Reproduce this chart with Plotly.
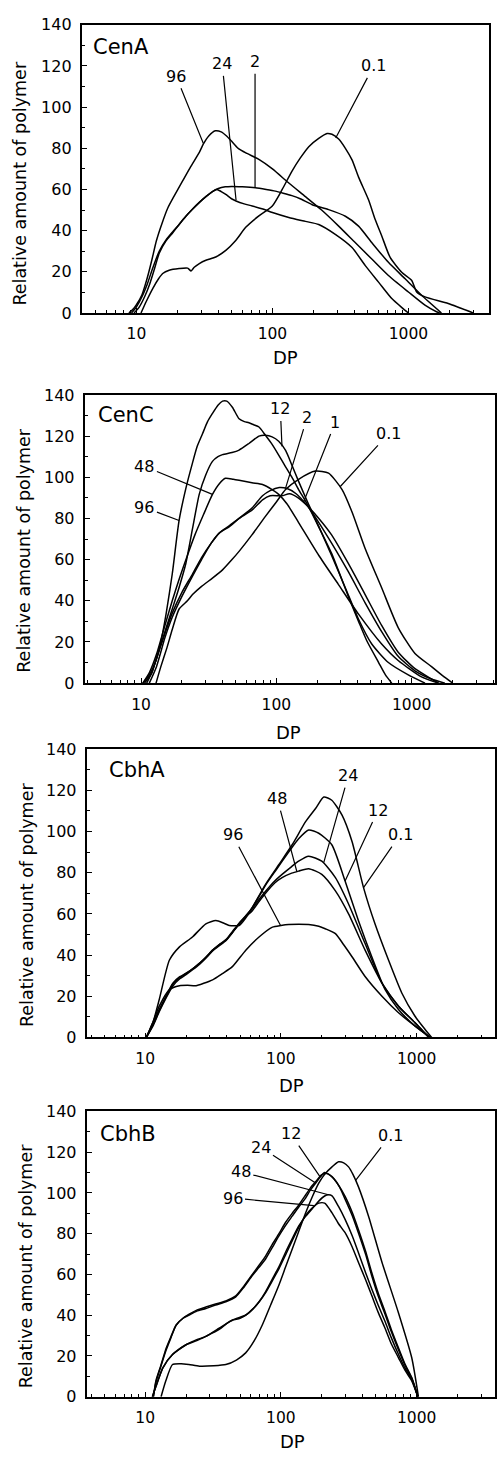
import math
import plotly.graph_objects as go

# ---------------- data (DP, relative amount of polymer) ----------------
# Panel 1: CenA
CENA_96_DP = [8.8, 9.5, 10, 11, 12, 13, 14, 15.5, 17, 19, 21.8, 25, 29, 31, 34, 38, 42, 46, 50, 56, 65, 80, 100, 130, 175, 230, 307, 406, 538, 713, 1000, 1324, 1610, 1700]
CENA_96_Y = [0, 2, 4, 9, 17, 26, 35, 44, 51, 57, 64, 71, 78, 82, 86, 88.5, 88, 86, 83.5, 80, 77.5, 74.5, 70, 63.5, 56.5, 50, 42.2, 34.2, 26.2, 18.2, 10.2, 3.8, 0.6, 0]
CENA_24_DP = [9.2, 10, 11, 12, 13.2, 14.7, 16.5, 18.5, 20.6, 23.1, 25.9, 28.9, 32.4, 36.2, 39, 42, 45.4, 50, 54, 62, 71, 85, 100, 132, 175, 219, 290, 385, 482, 603, 755, 900, 1000]
CENA_24_Y = [0, 3, 8, 14, 22, 30, 35.5, 39.5, 43, 47, 50.5, 53.6, 56.5, 59, 60, 59, 57.6, 55.5, 54.4, 53, 52, 50.5, 48.8, 46.4, 44.5, 43, 38.2, 31.8, 23, 15, 7, 2.5, 0]
CENA_2_DP = [9.6, 10.5, 11.5, 12.5, 13.5, 14.7, 16.5, 18.5, 20.6, 23.1, 25.9, 28.9, 32.4, 36.2, 40, 45, 50, 60, 75, 90, 105, 120, 139, 160, 196, 259, 344, 430, 538, 713, 946, 1250, 1750]
CENA_2_Y = [0, 3, 8, 14, 21, 29, 35, 39, 43, 47, 50.5, 53.6, 56.5, 59, 60.5, 61.3, 61.5, 61.3, 60.8, 60, 59.2, 58.2, 57, 55.5, 52.6, 50.2, 47, 42.2, 34.2, 24.6, 16.6, 8.6, 0]
CENA_01_DP = [10.8, 11.8, 13.2, 14.5, 15.6, 17.4, 20.6, 23.8, 25.2, 26.6, 29, 32.4, 38.3, 45.4, 53.7, 63.6, 79.5, 99.8, 118, 139, 160, 185, 219, 252, 274, 307, 344, 385, 430, 509, 570, 637, 734, 893, 1058, 1150, 1324, 1963, 2995]
CENA_01_Y = [0, 5.6, 12, 16.5, 19.2, 20.8, 21.6, 21.8, 20.4, 22.2, 24, 25.6, 27.2, 30.4, 35.2, 41.6, 47.2, 52, 60, 68.8, 75.2, 80.8, 84.8, 87.2, 86.8, 84.5, 80, 74.4, 66, 55, 45.4, 37.4, 27, 19.8, 15.8, 10.2, 7.8, 4.6, 0]

# Panel 2: CenC
CENC_96_DP = [10.3, 11.5, 12.9, 14, 15.3, 17, 19.1, 21.5, 24, 26, 28.4, 31, 33.7, 37, 40, 43, 47.3, 53, 58, 62.7, 68, 74.4, 83, 93, 104, 117, 131, 146, 164, 185, 206, 256, 341, 405, 465, 570, 640, 713]
CENC_96_Y = [0, 4, 11, 20, 33.5, 53, 79, 95, 107, 115, 121, 127, 131, 135, 137, 137, 134, 128.4, 127, 126.5, 125.5, 124.4, 120.4, 116, 110.8, 105, 99.7, 94, 88.5, 82, 75.8, 63, 42, 30, 20.7, 10, 4, 0]
CENC_12_DP = [11, 12, 13, 15, 17, 19, 21.4, 24, 26.9, 30, 33.7, 37, 40, 47, 53, 62.7, 74.4, 83, 93, 104, 117, 130, 146, 170, 206, 256, 325, 405, 507, 673, 944, 1255]
CENC_12_Y = [0, 5, 12, 25, 36, 46, 58, 75, 91.7, 101, 107.7, 110, 111, 112, 113.2, 116.4, 120, 120.4, 119.6, 117.5, 113, 106, 98, 88, 76, 62, 46, 31, 19, 10, 4, 0]
CENC_48_DP = [10.3, 11.5, 13, 15, 17, 19, 22, 25, 29, 33.7, 38, 42, 48, 53, 66, 79, 93, 104, 120, 146, 206, 287, 405, 600, 795, 1183, 1580]
CENC_48_Y = [0, 5, 14, 28, 40, 50, 62, 72, 82, 91.7, 97, 99.5, 99, 98.5, 97.3, 96.5, 94, 91.7, 87, 78, 62, 48, 33.5, 19, 11, 3, 0]
CENC_2_DP = [10.6, 12, 13, 15, 17, 20, 24, 28, 33, 38, 45, 53, 66, 79, 90, 105, 120, 140, 170, 206, 256, 341, 453, 600, 795, 1058, 1400, 1760]
CENC_2_Y = [0, 5, 12, 24, 34, 44, 53, 61, 68, 73, 76, 80, 85, 91, 93.5, 95, 94.5, 92, 86, 78, 68, 54, 39, 25, 13, 6, 2, 0]
CENC_1_DP = [11.5, 13, 15, 17, 20, 24, 28, 33, 38, 45, 53, 66, 79, 90, 110, 125, 145, 170, 206, 256, 341, 453, 600, 795, 1058, 1400, 1580]
CENC_1_Y = [0, 8, 22, 32, 42, 52, 60, 68, 73, 76.5, 80, 84, 89, 91, 91, 92, 90, 86, 80, 72, 58, 43, 28, 15, 7, 2, 0]
CENC_01_DP = [12.9, 14, 15.5, 17, 19.1, 22, 24, 28, 33.7, 40, 47, 53, 66, 83, 100, 117, 146, 194, 243, 306, 363, 453, 600, 795, 1058, 1402, 1700, 2012]
CENC_01_Y = [0, 8, 17, 26, 36, 40, 43, 47, 51, 55, 60, 64, 72, 81, 88, 94, 99, 103, 102, 94, 83, 65.4, 46.3, 27, 14.4, 8, 3.5, 0]

# Panel 3: CbhA
CBHA_01_DP = [10.2, 11.5, 12.7, 15.1, 17.9, 22.3, 28, 33.2, 38, 41.6, 49.2, 55, 61.6, 77.1, 96.7, 121, 152, 180, 207, 237, 282, 334, 406, 493, 620, 777, 970, 1150, 1290]
CBHA_01_Y = [0, 8, 18.4, 37.6, 44, 48.8, 55.2, 56.8, 55.5, 54.4, 54.4, 58, 63.2, 74.4, 84, 93.6, 104.8, 111.2, 116.8, 115.2, 108, 95.2, 72.8, 55.2, 37.6, 21.6, 10.4, 4, 0]
CBHA_12_DP = [10.2, 11.5, 12.7, 14.2, 16, 18, 20, 22.5, 25.1, 28, 31.4, 35, 39.3, 44, 49.2, 55, 61.6, 69, 77.1, 91.3, 114, 135, 160, 190, 237, 297, 372, 467, 586, 735, 970, 1260]
CBHA_12_Y = [0, 7, 13.6, 20, 26.4, 29.5, 31.2, 33.5, 36, 39, 42.4, 45, 47.2, 51, 55.2, 59, 63.2, 68.5, 74, 81, 90, 96.5, 100.8, 99.2, 93.6, 76, 56.8, 39.2, 23.2, 13.6, 5.6, 0]
CBHA_24_DP = [10.2, 11.5, 12.7, 14.2, 16, 18, 20, 22.5, 25.1, 28, 31.4, 35, 39.3, 44, 49.2, 55, 61.6, 69, 77.1, 90, 102, 120, 135, 160, 200, 252, 315, 417, 555, 735, 970, 1230]
CBHA_24_Y = [0, 6.5, 13, 19.5, 26, 29, 31, 33.5, 36, 39, 42.4, 45, 47.5, 51.5, 55.5, 59, 62.5, 67, 71, 76, 79.2, 83, 85.6, 88, 85.6, 77.6, 64.8, 45.6, 26.4, 15.2, 7.2, 0]
CBHA_48_DP = [10.2, 11.5, 12.7, 14.2, 16, 18, 20, 22.5, 25.1, 28, 31.4, 35, 39.3, 44, 49.2, 55, 61.6, 69, 77, 90, 102, 120, 135, 160, 200, 252, 315, 417, 555, 735, 970, 1230]
CBHA_48_Y = [0, 6, 12.5, 19, 25, 28.5, 30.5, 33, 35.5, 38.5, 42, 44.5, 47, 51, 55, 58.5, 61.6, 66, 70, 75, 77.6, 79.8, 80.8, 82, 79.2, 71.2, 60, 42.4, 26.4, 15.2, 7.2, 0]
CBHA_96_DP = [10.2, 11.5, 12.7, 15.1, 17.9, 20.5, 23.7, 27, 31.4, 37, 43.9, 55.1, 69, 86.6, 100, 114, 135, 160, 190, 212, 252, 290, 334, 417, 555, 735, 970, 1260]
CBHA_96_Y = [0, 8, 15.2, 23.2, 25.1, 25.3, 25.1, 26.3, 28, 31, 34.4, 42.4, 48.8, 53.6, 54.4, 54.9, 55, 54.9, 54, 52.8, 50.4, 45, 39.2, 29.6, 20, 12, 5.6, 0]

# Panel 4: CbhB
CBHB_01_DP = [13.1, 14.2, 15.9, 18.4, 21, 25.1, 32, 39.3, 47, 55, 63, 72.9, 84, 96.4, 108, 121, 135, 152, 170, 190, 212, 238, 266, 290, 315, 340, 372, 442, 555, 730, 920, 1030]
CBHB_01_Y = [0, 7.8, 15.8, 16.2, 15.8, 15, 15.2, 15.8, 18, 21.5, 27, 35.2, 45, 54.6, 63.5, 72.4, 81, 90.2, 98, 104.8, 109.5, 112.8, 115.3, 114.8, 112.8, 109, 103.1, 88.6, 66, 41.7, 19.1, 0]
CBHB_12_DP = [11.5, 12, 13, 14.3, 15.5, 16.9, 19, 21.1, 24, 28, 33, 39.3, 46.5, 53, 61.6, 69, 77.1, 86, 96.7, 108, 121, 135, 152, 165, 180, 195, 210, 238, 265, 297, 335, 372, 420, 466, 520, 585, 650, 735, 820, 920, 1020]
CBHB_12_Y = [0, 7.8, 15, 23.9, 29.5, 35.2, 38.5, 40.1, 42, 43.3, 45, 46.6, 49, 53.5, 59.5, 63.5, 67.6, 73, 78.9, 84, 88.6, 93, 97.5, 101.5, 104.8, 107.8, 110, 108, 104, 98.3, 90.5, 82.1, 71.5, 61.1, 51, 41.7, 33, 23.9, 16, 9.4, 0]
CBHB_24_DP = [11.5, 12, 13, 14.3, 15.5, 16.9, 19, 21.1, 24, 28, 33, 39.3, 46.5, 53, 61.6, 69, 77.1, 86, 96.7, 108, 121, 135, 152, 165, 180, 200, 220, 245, 270, 297, 335, 372, 420, 466, 520, 585, 650, 735, 820, 920, 1020]
CBHB_24_Y = [0, 7, 14.5, 23, 29, 35, 38.5, 40.5, 42.5, 44, 45.5, 47, 49.5, 54, 60, 64.5, 69, 74.5, 80, 85.5, 90, 94, 99, 102.5, 105.5, 109, 109.5, 107, 103, 97, 89, 80.5, 70, 59.5, 49.5, 40.5, 32, 23, 15.5, 9, 0]
CBHB_48_DP = [11.3, 12, 13.5, 15.9, 20, 24, 28, 35.1, 44, 55.1, 62, 69, 77, 86.6, 97, 108, 121, 135, 152, 169, 190, 210, 224, 238, 265, 297, 335, 372, 420, 466, 520, 585, 650, 735, 820, 920, 1020]
CBHB_48_Y = [0, 5, 14.2, 20.7, 25.5, 28, 29.6, 33.6, 37.7, 40.1, 43, 46.6, 51.5, 57.9, 64, 70.8, 77.5, 83.7, 88.5, 92, 96, 98.5, 99.1, 98.6, 93.5, 87, 79, 70.8, 61, 53, 45, 36.9, 29, 20.7, 14, 8.6, 0]
CBHB_96_DP = [11.3, 12, 13.5, 15.9, 20, 24, 28, 35.1, 40, 44, 50, 55.1, 62, 69, 77, 86.6, 97, 108, 121, 135, 152, 169, 190, 210, 238, 265, 297, 335, 372, 420, 466, 520, 585, 650, 735, 820, 920, 1020]
CBHB_96_Y = [0, 5, 14.2, 20.7, 25.5, 27.5, 29.6, 33, 36, 37.5, 38.5, 40, 43, 46.5, 51, 57, 63, 69.5, 76.5, 83, 89, 92.5, 95, 95, 90.2, 85, 80.5, 73.5, 66, 57.5, 49.8, 41.5, 33.6, 26, 19.1, 13, 7.8, 0]

PANEL_NAMES = ["CenA", "CenC", "CbhA", "CbhB"]
PANEL_SERIES = [
    [("96", CENA_96_DP, CENA_96_Y), ("24", CENA_24_DP, CENA_24_Y), ("2", CENA_2_DP, CENA_2_Y), ("0.1", CENA_01_DP, CENA_01_Y)],
    [("96", CENC_96_DP, CENC_96_Y), ("48", CENC_48_DP, CENC_48_Y), ("12", CENC_12_DP, CENC_12_Y), ("2", CENC_2_DP, CENC_2_Y), ("1", CENC_1_DP, CENC_1_Y), ("0.1", CENC_01_DP, CENC_01_Y)],
    [("96", CBHA_96_DP, CBHA_96_Y), ("48", CBHA_48_DP, CBHA_48_Y), ("24", CBHA_24_DP, CBHA_24_Y), ("12", CBHA_12_DP, CBHA_12_Y), ("0.1", CBHA_01_DP, CBHA_01_Y)],
    [("96", CBHB_96_DP, CBHB_96_Y), ("48", CBHB_48_DP, CBHB_48_Y), ("24", CBHB_24_DP, CBHB_24_Y), ("12", CBHB_12_DP, CBHB_12_Y), ("0.1", CBHB_01_DP, CBHB_01_Y)],
]

Y_TICKS = [0, 20, 40, 60, 80, 100, 120, 140]
Y_MINOR = [10, 30, 50, 70, 90, 110, 130]
X_TICKS = [10, 100, 1000]
X_TICKTEXT = ["10", "100", "1000"]
X_MINOR = [4, 5, 6, 7, 8, 9, 20, 30, 40, 50, 60, 70, 80, 90, 200, 300, 400, 500, 600, 700, 800, 900, 2000, 3000, 4000]

# label text position (DP, y) and leader tip (DP, y) for each panel
LABELS = [
    [("96", 19.6, 115, 31, 82.5), ("24", 42.7, 121, 54, 54.8), ("2", 74.5, 122, 74.5, 60.8), ("0.1", 555, 120, 292, 85)],
    [("12", 107, 133.2, 110, 115), ("2", 169, 129.2, 117, 94.7), ("1", 273, 126.8, 159, 88), ("0.1", 676, 121.2, 297, 95.5),
     ("48", 10.6, 105.3, 33.7, 91.7), ("96", 10.6, 85.3, 19.1, 79)],
    [("24", 314, 127.2, 207, 85), ("48", 94, 116, 131, 80.6), ("12", 520, 110.4, 297, 76), ("0.1", 755, 98.4, 406, 72.8),
     ("96", 44, 98.4, 99.4, 54.4)],
    [("12", 118, 129, 195, 107.8), ("24", 70.9, 122.5, 179, 105), ("48", 50.7, 110.4, 224, 99.1), ("96", 44, 97.5, 175, 93.8),
     ("0.1", 637, 128.2, 354, 106)],
]

# ---------------- layout geometry (paper fractions) ----------------
W, H = 497, 1460
GEOM = [
    dict(xd=[82 / W, 491 / W], yd=[1 - 308 / H, 1 - 16 / H], xr=[0.597, 3.593]),
    dict(xd=[85 / W, 1.0], yd=[1 - 683 / H, 1 - 391 / H], xr=[0.583, 3.616]),
    dict(xd=[87 / W, 1.0], yd=[1 - 1042 / H, 1 - 750 / H], xr=[0.569, 3.577]),
    dict(xd=[87 / W, 1.0], yd=[1 - 1406 / H, 1 - 1117 / H], xr=[0.569, 3.577]),
]
YTITLE_POS = [(20, 177), (24, 549), (27, 908), (27, 1274)]
XTITLE_POS = [(287, 353.5), (290, 733), (293, 1091), (294, 1451.5)]
NAME_POS = [(91, 39), (96, 411), (107, 771), (98, 1140)]

FONT = "DejaVu Sans"
fig = go.Figure()
layout = dict(
    width=W, height=H, margin=dict(l=0, r=0, t=0, b=0),
    paper_bgcolor="white", plot_bgcolor="white", showlegend=False,
    font=dict(family=FONT, color="black"), hovermode=False,
)
annotations = []

for i, (name, series) in enumerate(zip(PANEL_NAMES, PANEL_SERIES)):
    n = i + 1
    xa = "x" if n == 1 else f"x{n}"
    ya = "y" if n == 1 else f"y{n}"
    g = GEOM[i]
    for lab, dp, yv in series:
        fig.add_trace(go.Scatter(
            x=dp, y=yv, mode="lines", xaxis=xa, yaxis=ya, name=lab,
            line=dict(color="black", width=1.5, shape="spline", smoothing=0.6),
        ))
    layout[f"xaxis{'' if n == 1 else n}"] = dict(
        type="log", domain=g["xd"], range=g["xr"], anchor=ya,
        showgrid=False, zeroline=False, showline=True, linecolor="black", linewidth=1.8, mirror=True,
        ticks="inside", ticklen=5, tickwidth=1.3, tickcolor="black",
        tickmode="array", tickvals=X_TICKS, ticktext=X_TICKTEXT,
        tickfont=dict(family=FONT, size=15.5, color="black"), ticklabelstandoff=6,
        minor=dict(tickmode="array", tickvals=X_MINOR, ticks="inside", ticklen=3, tickwidth=1.1, tickcolor="black", showgrid=False),
    )
    layout[f"yaxis{'' if n == 1 else n}"] = dict(
        domain=g["yd"], range=[0, 140], anchor=xa,
        showgrid=False, zeroline=False, showline=True, linecolor="black", linewidth=1.8, mirror=True,
        ticks="inside", ticklen=5, tickwidth=1.3, tickcolor="black",
        tickmode="array", tickvals=Y_TICKS,
        tickfont=dict(family=FONT, size=16, color="black"), ticklabelstandoff=5,
        minor=dict(tickmode="array", tickvals=Y_MINOR, ticks="inside", ticklen=3, tickwidth=1.1, tickcolor="black", showgrid=False),
    )
    # curve labels with leader lines
    for lab, tx, ty, px, py in LABELS[i]:
        annotations.append(dict(
            text=lab, x=math.log10(px), y=py, ax=math.log10(tx), ay=ty,
            xref=xa, yref=ya, axref=xa, ayref=ya, showarrow=True, arrowhead=0,
            arrowwidth=1.2, arrowcolor="black", standoff=0, startstandoff=1,
            font=dict(family=FONT, size=16, color="black"),
        ))
    # axis titles and panel names
    yx, yy = YTITLE_POS[i]
    annotations.append(dict(text="Relative amount of polymer", x=yx / W, y=1 - yy / H, xref="paper", yref="paper",
                            showarrow=False, textangle=-90, xanchor="center", yanchor="middle",
                            font=dict(family=FONT, size=17.5, color="black")))
    dx, dy = XTITLE_POS[i]
    annotations.append(dict(text="DP", x=dx / W, y=1 - dy / H, xref="paper", yref="paper",
                            showarrow=False, xanchor="center", yanchor="middle",
                            font=dict(family=FONT, size=18, color="black")))
    nx, ny = NAME_POS[i]
    annotations.append(dict(text=name, x=nx / W, y=1 - ny / H, xref="paper", yref="paper",
                            showarrow=False, xanchor="left", yanchor="middle",
                            font=dict(family=FONT, size=21, color="black")))

layout["annotations"] = annotations
fig.update_layout(**layout)
fig.write_html("out.html")
